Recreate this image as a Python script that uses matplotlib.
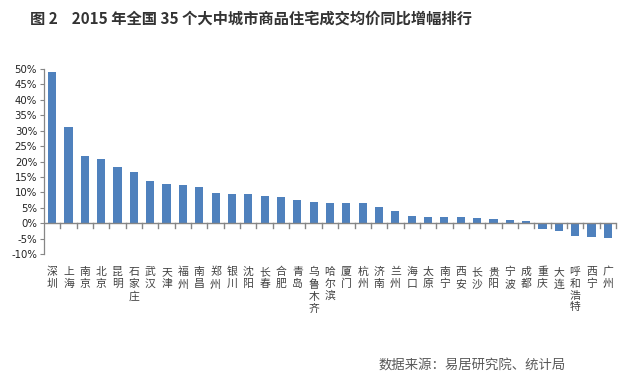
import matplotlib
matplotlib.use("Agg")
import matplotlib.pyplot as plt
import matplotlib.transforms as mtransforms

plt.rcParams['font.family'] = ['Noto Sans CJK SC', 'DejaVu Sans']

cities = ['深圳', '上海', '南京', '北京', '昆明', '石家庄', '武汉', '天津', '福州', '南昌',
          '郑州', '银川', '沈阳', '长春', '合肥', '青岛', '乌鲁木齐', '哈尔滨', '厦门', '杭州',
          '济南', '兰州', '海口', '太原', '南宁', '西安', '长沙', '贵阳', '宁波', '成都',
          '重庆', '大连', '呼和浩特', '西宁', '广州']
growth = [48.9, 31.3, 21.9, 20.9, 18.3, 16.7, 13.7, 12.8, 12.4, 11.8,
          9.8, 9.5, 9.5, 8.9, 8.5, 7.6, 6.9, 6.6, 6.6, 6.6,
          5.3, 4.0, 2.4, 2.1, 2.1, 2.1, 1.7, 1.4, 1.1, 0.8,
          -1.8, -2.5, -4.1, -4.4, -4.8]
yticks = list(range(-10, 55, 5))

title = '图 2    2015 年全国 35 个大中城市商品住宅成交均价同比增幅排行'
source = '数据来源：易居研究院、统计局'

bar_color = '#4F81BD'
axis_color = '#868686'
text_color = '#404040'

fig = plt.figure(figsize=(6.23, 3.80), dpi=100)
ax = fig.add_axes([44 / 623, 1 - 254 / 380, (616 - 44) / 623, (254 - 69) / 380])

x = list(range(len(cities)))
ax.bar(x, growth, width=0.5, color=bar_color, zorder=2)

ax.set_xlim(-0.5, len(cities) - 0.5)
ax.set_ylim(-10, 50)
ax.set_yticks(yticks)
ax.set_yticklabels([f'{v}%' for v in yticks], fontsize=7.3, color='#222222',
                   family='DejaVu Sans')
ax.tick_params(axis='y', length=3, width=0.8, color=axis_color, pad=2)

# category axis at zero with tick marks between categories
ax.set_xticks([])
for s in ['top', 'right', 'bottom']:
    ax.spines[s].set_visible(False)
ax.spines['left'].set_color(axis_color)
ax.spines['left'].set_linewidth(0.9)
ax.axhline(0, color=axis_color, linewidth=1.0, zorder=3)
for b in [i - 0.5 for i in range(1, len(cities) + 1)]:
    ax.plot([b, b], [0, -1.5], color=axis_color, linewidth=1.0, zorder=3, clip_on=False)

# stacked vertical city labels
lab_tr = mtransforms.blended_transform_factory(ax.transData, fig.transFigure)
for i, name in enumerate(cities):
    ax.text(i, 1 - 267 / 380, '\n'.join(name), transform=lab_tr, ha='center', va='top',
            fontsize=7.8, color=text_color, linespacing=1.22)

fig.text(30 / 623, 1 - 19 / 380, title, fontsize=11, fontweight='bold',
         color='#333333', ha='left', va='center')
fig.text(379 / 623, 1 - 366 / 380, source, fontsize=9.6, color='#595959',
         ha='left', va='center')

fig.savefig('out.png', dpi=100)
